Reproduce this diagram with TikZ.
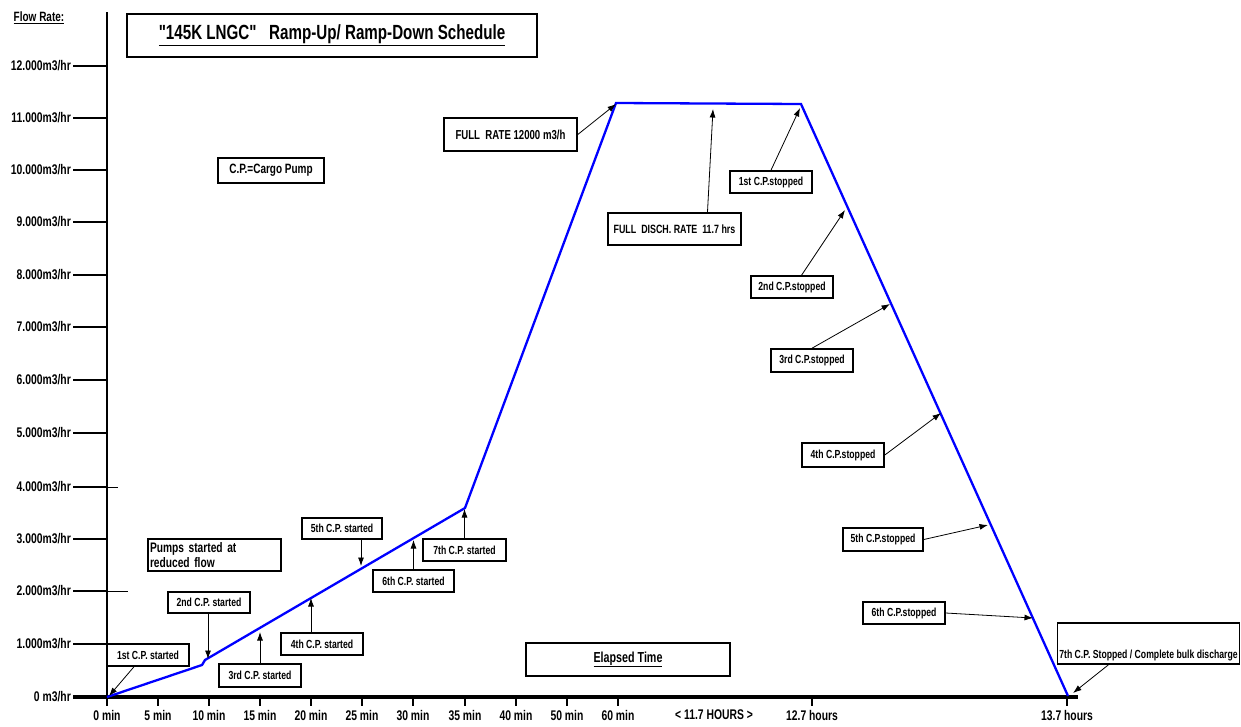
\documentclass[tikz,border=0pt]{standalone}
\usepackage{fontspec}
\setmainfont{Liberation Sans}[FakeStretch=0.74]
\newfontfamily\plainfont{Liberation Sans}[FakeStretch=0.74]
\usetikzlibrary{arrows.meta}
\newcommand{\fsz}[1]{\bfseries\fontsize{#1}{#1}\selectfont}
\tikzset{
  box/.style={draw, line width=1.6pt, inner sep=0pt, font=\fsz{11.7}},
  arr/.style={draw, line width=0.8pt, -{Latex[length=8.5pt,width=6pt]}},
  ylab/.style={anchor=east, inner sep=0pt, font=\fsz{14}},
  xlab/.style={anchor=center, inner sep=0pt, font=\fsz{14}},
  tick/.style={line width=2pt},
  flow/.style={draw=blue, line width=2.3pt, line join=miter},
}
\begin{document}
\begin{tikzpicture}[x=1pt, y=-1pt]
\useasboundingbox (0,0) rectangle (1241,726);

% axes
\draw[line width=2.5pt] (107,12) -- (107,697);
\draw[line width=4.5pt] (73,697) -- (1078,697);

% y ticks and labels
\node[anchor=center, inner sep=0pt, font=\fsz{13.5}] (flowrate) at (39,18) {\underline{Flow Rate:}};
\foreach \v/\y/\t in {{12.000m3/hr}/66/a, {11.000m3/hr}/118/b, {10.000m3/hr}/170/c, {9.000m3/hr}/222/d,
  {8.000m3/hr}/275/e, {7.000m3/hr}/327/f, {6.000m3/hr}/380/g, {5.000m3/hr}/433/h, {4.000m3/hr}/487/i,
  {3.000m3/hr}/539/j, {2.000m3/hr}/591/k, {1.000m3/hr}/644/l, {0 m3/hr}/697/m} {
  \node[ylab] (y\t) at (71,\y) {\v};
  \draw[tick] (73,\y) -- (107,\y);
}
\draw[line width=0.8pt] (107,487) -- (118,487);
\draw[line width=0.8pt] (107,591) -- (128,591);

% x ticks and labels
\foreach \x/\t/\n in {107/0 min/a, 158/5 min/b, 209/10 min/c, 260/15 min/d, 311/20 min/e,
  362/25 min/f, 413/30 min/g, 465/35 min/h, 516/40 min/i, 567/50 min/j, 618/60 min/k,
  812/12.7 hours/m, 1067/13.7 hours/n} {
  \draw[tick] (\x,697) -- (\x,706);
  \node[xlab] (x\n) at (\x,715) {\t};
}
\node[xlab] (xl) at (714,715) {< 11.7 HOURS >};

% flow curve
\coordinate (p0) at (107,697);
\coordinate (p1) at (202,665);
\coordinate (p2) at (205,660);
\coordinate (p3) at (465,508);
\coordinate (p4) at (616,103);
\coordinate (p5) at (801,104);
\coordinate (p6) at (1068,696);
\draw[flow] (p0) -- (p1) -- (p2) -- (p3) -- (p4) -- (p5) -- (p6);

% title and notes
\node[box, minimum width=410, minimum height=43, font=\plainfont\fsz{20.5}] (title) at (332,35.5)
  {\underline{"145K LNGC"\ \ \ Ramp-Up/ Ramp-Down Schedule}};
\node[box, minimum width=106, minimum height=25, font=\fsz{13.5}] (cp) at (271,170.5) {C.P.=Cargo Pump};
\node[box, minimum width=133, minimum height=32, font=\fsz{13.8}, align=left, text width=129,
  inner xsep=2pt] (pumps) at (214.5,555)
  {Pumps started at\\[1.5pt]reduced flow};
\node[box, minimum width=204, minimum height=33, font=\fsz{14.5}] (elapsed) at (628,659.5) {\underline{Elapsed Time}};

% ramp-up boxes
\node[box, minimum width=82, minimum height=22] (b1) at (148,655) {1st C.P. started};
\node[box, minimum width=82, minimum height=21] (b2) at (209,602.5) {2nd C.P. started};
\node[box, minimum width=82, minimum height=23] (b3) at (260,675.5) {3rd C.P. started};
\node[box, minimum width=82, minimum height=22] (b4) at (322,644) {4th C.P. started};
\node[box, minimum width=80, minimum height=21] (b5) at (342,528.5) {5th C.P. started};
\node[box, minimum width=81, minimum height=22] (b6) at (413.5,581) {6th C.P. started};
\node[box, minimum width=83, minimum height=22] (b7) at (464.5,550) {7th C.P. started};

\coordinate (t1) at (109,696);
\coordinate (t2) at (208,659);
\coordinate (t3) at (260,632);
\coordinate (t4) at (311,598);
\coordinate (t5) at (361,566);
\coordinate (t6) at (413.5,540);
\coordinate (t7) at (464.5,509);
\draw[arr] (b1.220) -- (t1);
\draw[arr] (b2.south -| t2) -- (t2);
\draw[arr] (b3.north) -- (t3);
\draw[arr] (b4.north -| t4) -- (t4);
\draw[arr] (b5.south -| t5) -- (t5);
\draw[arr] (b6.north) -- (t6);
\draw[arr] (b7.north) -- (t7);

% full rate boxes
\node[box, minimum width=133, minimum height=33, font=\fsz{13}] (fr) at (510.5,134.5) {FULL\ \ RATE 12000 m3/h};
\node[box, minimum width=133, minimum height=32, font=\fsz{12}] (fd) at (674.5,229) {FULL\ \ DISCH. RATE\ \ 11.7 hrs};
\coordinate (tfr) at (616,104);
\coordinate (tfd) at (713,109);
\draw[arr] (fr.east) -- (tfr);
\draw[arr] (fd.27) -- (tfd);

% ramp-down boxes
\node[box, minimum width=82, minimum height=22] (s1) at (771,182) {1st C.P.stopped};
\node[box, minimum width=82, minimum height=22] (s2) at (792,287) {2nd C.P.stopped};
\node[box, minimum width=82, minimum height=23] (s3) at (812,360.5) {3rd C.P.stopped};
\node[box, minimum width=82, minimum height=24] (s4) at (843,455) {4th C.P.stopped};
\node[box, minimum width=80, minimum height=23] (s5) at (883,539.5) {5th C.P.stopped};
\node[box, minimum width=82, minimum height=22] (s6) at (904,613) {6th C.P.stopped};
\node[box, minimum width=182, minimum height=41, text height=33pt, text depth=4pt] (s7) at (1148.5,643.5)
  {7th C.P. Stopped / Complete bulk discharge};

\coordinate (u1) at (800,108);
\coordinate (u2) at (845,210);
\coordinate (u3) at (890,304);
\coordinate (u4) at (941,413);
\coordinate (u5) at (988,525);
\coordinate (u6) at (1033,618);
\coordinate (u7) at (1073,693);
\draw[arr] (s1.north) -- (u1);
\draw[arr] (s2.51) -- (u2);
\draw[arr] (s3.north) -- (u3);
\draw[arr] (s4.east) -- (u4);
\draw[arr] (s5.east) -- (u5);
\draw[arr] (s6.east) -- (u6);
\draw[arr] (s7.208) -- (u7);
\end{tikzpicture}
\end{document}
